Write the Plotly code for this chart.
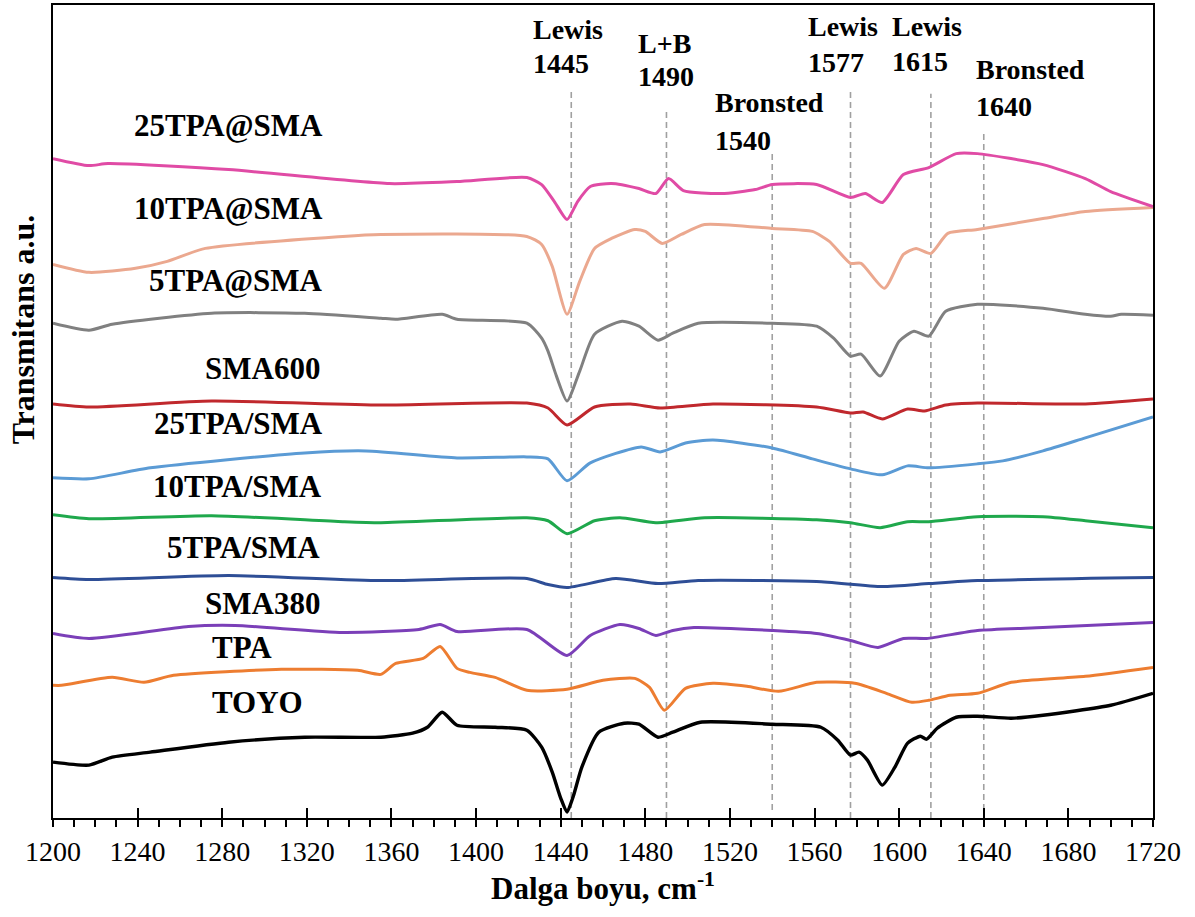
import plotly.graph_objects as go

# Offset FTIR spectra (pyridine adsorption region), transmittance in arbitrary units
toyo_wn = [1200, 1217, 1228, 1246, 1283, 1319, 1355, 1370, 1377, 1384, 1391, 1409, 1424, 1431, 1436, 1440, 1443,
           1446, 1450, 1458, 1470, 1477, 1486, 1493, 1506, 1540, 1563, 1571, 1577, 1581, 1585, 1592, 1598, 1604,
           1610, 1613, 1618, 1627, 1637, 1653, 1668, 1700, 1720]
toyo_t = [56, 53, 61, 66, 76, 81, 81, 85, 91, 106, 93, 91, 88, 71, 46, 20, 6,
          22, 51, 86, 95, 94, 81, 86, 96, 94, 91, 78, 63, 66, 58, 33, 51, 75,
          82, 79, 90, 101, 102, 100, 103, 113, 125]

tpa_wn = [1200, 1204, 1228, 1243, 1257, 1308, 1344, 1355, 1362, 1375, 1383, 1391, 1397, 1409, 1424, 1443, 1460,
          1475, 1482, 1489, 1499, 1512, 1528, 1543, 1561, 1579, 1594, 1606, 1614, 1624, 1637, 1653, 1688, 1720]
tpa_t = [133, 133, 141, 136, 143, 149, 148, 144, 155, 160, 172, 150, 146, 141, 128, 129, 138,
         140, 131, 108, 130, 135, 132, 127, 136, 135, 125, 116, 118, 123, 125, 136, 142, 151]

sma380_wn = [1200, 1217, 1264, 1286, 1337, 1373, 1383, 1391, 1424, 1443, 1454, 1468, 1477, 1485, 1493, 1503,
             1540, 1561, 1577, 1590, 1602, 1613, 1637, 1668, 1720]
sma380_t = [185, 180, 192, 193, 186, 189, 194, 187, 189, 163, 183, 194, 190, 183, 188, 191,
            188, 185, 178, 171, 180, 180, 188, 191, 196]

tpa5_sma_wn = [1200, 1217, 1283, 1355, 1424, 1434, 1443, 1466, 1486, 1505, 1561, 1592, 1614, 1637, 1720]
tpa5_sma_t = [241, 239, 243, 238, 240, 234, 231, 240, 235, 238, 237, 232, 235, 238, 241]

tpa10_sma_wn = [1200, 1217, 1275, 1337, 1355, 1424, 1434, 1443, 1456, 1468, 1485, 1508, 1561, 1577, 1591, 1604,
                1614, 1637, 1668, 1688, 1720]
tpa10_sma_t = [304, 300, 303, 297, 296, 301, 298, 285, 298, 301, 296, 301, 299, 296, 291, 297,
               297, 302, 302, 298, 291]

tpa25_sma_wn = [1200, 1217, 1246, 1319, 1348, 1391, 1424, 1434, 1443, 1454, 1478, 1487, 1499, 1512, 1540, 1559,
                1577, 1592, 1604, 1614, 1637, 1649, 1668, 1688, 1720]
tpa25_sma_t = [341, 340, 351, 366, 368, 361, 362, 360, 338, 356, 372, 367, 376, 379, 371, 360,
               350, 344, 353, 351, 355, 358, 368, 381, 402]

sma600_wn = [1200, 1217, 1275, 1355, 1424, 1434, 1443, 1456, 1473, 1487, 1512, 1561, 1577, 1583, 1592, 1604,
             1612, 1622, 1637, 1688, 1720]
sma600_t = [415, 412, 418, 414, 416, 411, 394, 412, 415, 411, 415, 412, 406, 407, 400, 410,
            408, 414, 416, 415, 420]

tpa5_at_wn = [1200, 1217, 1228, 1275, 1319, 1355, 1362, 1384, 1391, 1424, 1431, 1434, 1438, 1443, 1449, 1456,
              1469, 1477, 1486, 1493, 1505, 1540, 1561, 1569, 1577, 1582, 1591, 1600, 1607, 1614, 1622, 1637,
              1668, 1688, 1700, 1705, 1720]
tpa5_at_t = [496, 489, 495, 506, 506, 501, 500, 505, 500, 496, 481, 468, 443, 418, 448, 485,
             498, 493, 479, 486, 496, 496, 493, 481, 463, 465, 443, 478, 488, 483, 508, 515,
             511, 505, 503, 505, 504]

tpa10_at_wn = [1200, 1217, 1239, 1254, 1272, 1337, 1355, 1424, 1431, 1436, 1443, 1449, 1456, 1464, 1475, 1480,
               1488, 1497, 1508, 1540, 1559, 1567, 1577, 1582, 1593, 1602, 1608, 1615, 1623, 1637, 1668, 1688, 1720]
tpa10_at_t = [555, 547, 551, 558, 571, 583, 585, 583, 575, 553, 505, 538, 571, 581, 590, 588,
              576, 585, 595, 591, 588, 578, 556, 556, 531, 565, 571, 566, 586, 590, 601, 608, 612]

tpa25_at_wn = [1200, 1217, 1226, 1283, 1359, 1391, 1424, 1431, 1437, 1443, 1448, 1454, 1464, 1477, 1485, 1491,
               1498, 1516, 1532, 1540, 1561, 1577, 1584, 1592, 1602, 1614, 1627, 1637, 1668, 1688, 1700, 1720]
tpa25_at_t = [661, 654, 656, 650, 636, 638, 642, 635, 618, 600, 618, 633, 636, 631, 626, 641,
              629, 626, 630, 635, 635, 622, 626, 617, 645, 652, 666, 666, 655, 641, 628, 613]

series = [
    ("TOYO", toyo_wn, toyo_t, "#000000", 3.4),
    ("TPA", tpa_wn, tpa_t, "#ED7D31", 3),
    ("SMA380", sma380_wn, sma380_t, "#7B3FB8", 3),
    ("5TPA/SMA", tpa5_sma_wn, tpa5_sma_t, "#2E4E96", 3),
    ("10TPA/SMA", tpa10_sma_wn, tpa10_sma_t, "#1FA84C", 3),
    ("25TPA/SMA", tpa25_sma_wn, tpa25_sma_t, "#5B9BD5", 3),
    ("SMA600", sma600_wn, sma600_t, "#C0282D", 3),
    ("5TPA@SMA", tpa5_at_wn, tpa5_at_t, "#808080", 3),
    ("10TPA@SMA", tpa10_at_wn, tpa10_at_t, "#EBA88F", 3),
    ("25TPA@SMA", tpa25_at_wn, tpa25_at_t, "#E04BA5", 3),
]

# Curve name labels: (text, x, y, anchor)
curve_labels = [
    ("25TPA@SMA", 1328.8, 694, "right"),
    ("10TPA@SMA", 1328.8, 611, "right"),
    ("5TPA@SMA", 1328.8, 539, "right"),
    ("SMA600", 1327.0, 451, "right"),
    ("25TPA/SMA", 1328.8, 395, "right"),
    ("10TPA/SMA", 1328.0, 332, "right"),
    ("5TPA/SMA", 1327.0, 271, "right"),
    ("SMA380", 1327.0, 215, "right"),
    ("TPA", 1274.4, 171, "left"),
    ("TOYO", 1274.4, 116, "left"),
]

# Acid-site bands: wavenumber, site type, label x, label y (type line), label y (number line), line top
bands = [1445, 1490, 1540, 1577, 1615, 1640]
band_types = ["Lewis", "L+B", "Bronsted", "Lewis", "Lewis", "Bronsted"]
band_label_x = [1425.9, 1475.6, 1512.1, 1556.1, 1595.9, 1635.2]
band_type_y = [790, 776, 717, 793, 793, 750]
band_num_y = [756, 743, 679, 757, 758, 713]
band_line_top = [731, 711, 666, 730, 726, 686]
band_line_bottom = [0, 0, 8, 0, 0, 8]

fig = go.Figure()
for name, wn, t, color, width in series:
    fig.add_trace(go.Scatter(
        x=wn, y=t, mode="lines", name=name,
        line=dict(color=color, width=width, shape="spline", smoothing=0.6),
        showlegend=False, hoverinfo="skip",
    ))

# Invisible trace so the overlaid axis carrying the inward major ticks is drawn
fig.add_trace(go.Scatter(x=[1200, 1720], y=[0, 0], xaxis="x2", mode="lines",
                         line=dict(width=0), showlegend=False, hoverinfo="skip"))

for wn, top, bottom in zip(bands, band_line_top, band_line_bottom):
    fig.add_shape(type="line", xref="x", yref="y", x0=wn, x1=wn, y0=bottom, y1=top,
                  line=dict(color="#A0A0A0", width=1.6, dash="6px,4px"), layer="below")

serif = "Liberation Serif, Times New Roman, serif"

for text, x, y, anchor in curve_labels:
    fig.add_annotation(x=x, y=y, xref="x", yref="y", text=f"<b>{text}</b>", showarrow=False,
                       xanchor=anchor, yanchor="middle", font=dict(family=serif, size=31, color="#000"))

for wn, kind, lx, ty, ny in zip(bands, band_types, band_label_x, band_type_y, band_num_y):
    fig.add_annotation(x=lx, y=ty, xref="x", yref="y", text=f"<b>{kind}</b>", showarrow=False,
                       xanchor="left", yanchor="middle", font=dict(family=serif, size=28, color="#000"))
    fig.add_annotation(x=lx, y=ny, xref="x", yref="y", text=f"<b>{wn}</b>", showarrow=False,
                       xanchor="left", yanchor="middle", font=dict(family=serif, size=28, color="#000"))

fig.add_annotation(x=-0.0273, y=0.601, xref="paper", yref="paper", text="<b>Transmitans a.u.</b>",
                   textangle=-90, showarrow=False, xanchor="center", yanchor="middle",
                   font=dict(family=serif, size=32, color="#000"))

fig.update_layout(
    width=1195, height=917,
    margin=dict(l=53, r=42, t=3, b=99),
    paper_bgcolor="white", plot_bgcolor="white",
    xaxis=dict(
        range=[1200, 1720], tick0=1200, dtick=40,
        ticks="outside", ticklen=7, tickwidth=2, tickcolor="black",
        minor=dict(dtick=10, ticks="outside", ticklen=7, tickwidth=2, tickcolor="black"),
        showline=True, linewidth=2, linecolor="black", mirror=True,
        showgrid=False, zeroline=False,
        tickfont=dict(family=serif, size=28, color="black"),
        title=dict(text="<b>Dalga boyu, cm<sup>-1</sup></b>", font=dict(family=serif, size=31, color="black"),
                   standoff=9),
    ),
    xaxis2=dict(
        overlaying="x", matches="x", side="bottom", range=[1200, 1720], tick0=1200, dtick=40,
        ticks="inside", ticklen=10, tickwidth=2, tickcolor="black",
        showticklabels=False, showline=False, showgrid=False, zeroline=False,
    ),
    yaxis=dict(
        range=[0, 815], showticklabels=False, ticks="", showgrid=False, zeroline=False,
        showline=True, linewidth=2, linecolor="black", mirror=True,
    ),
)

fig.write_html("out.html")
